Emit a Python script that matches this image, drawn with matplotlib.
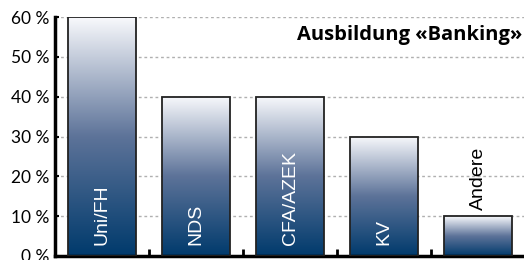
import numpy as np
import matplotlib.pyplot as plt
from matplotlib.colors import LinearSegmentedColormap

# Werte
categories = ['Uni/FH', 'NDS', 'CFA/AZEK', 'KV', 'Andere']
values = [60, 40, 40, 30, 10]
yticks = [0, 10, 20, 30, 40, 50, 60]
title = 'Ausbildung «Banking»'

cmap = LinearSegmentedColormap.from_list('bank', ['#003a6c', '#5d7399', '#f8f9fc'])

fig = plt.figure(figsize=(5.24, 2.6), dpi=100)
ax = fig.add_axes([55 / 524, 4 / 260, 470 / 524, 239 / 260])

x = np.arange(len(categories))
bars = ax.bar(x, values, width=0.72, color='none', edgecolor='#222222', linewidth=1.3, zorder=3)

# Verlauf in jeden Balken
grad = np.linspace(0, 1, 256).reshape(-1, 1)
for b in bars:
    x0, y0 = b.get_x(), b.get_y()
    w, h = b.get_width(), b.get_height()
    im = ax.imshow(grad, cmap=cmap, aspect='auto', origin='lower',
                   extent=[x0, x0 + w, y0, y0 + h], zorder=2, interpolation='bicubic')
    im.set_clip_path(b)

# Beschriftung in den Balken
for i, (c, v) in enumerate(zip(categories, values)):
    if v >= 20:
        ax.text(i, 2.7, c, rotation=90, ha='center', va='bottom', color='white',
                fontsize=14, family='Liberation Sans', zorder=4)
    else:
        ax.text(i, v + 1.5, c, rotation=90, ha='center', va='bottom', color='black',
                fontsize=14, family='Liberation Sans', zorder=4)

ax.set_xlim(-0.5, len(categories) - 0.5)
ax.set_ylim(0, 60)
ax.set_yticks(yticks)
ax.set_yticklabels([f'{t} %' for t in yticks], family='Lato', fontsize=12.5)
ax.set_xticks(np.arange(len(categories)) + 0.5)
ax.set_xticklabels([])
ax.tick_params(axis='x', direction='in', length=5, width=2)
ax.tick_params(axis='y', direction='in', length=3, width=1.5, pad=4)

ax.grid(axis='y', linestyle=(0, (2, 2)), color='#b0b0b0', linewidth=1, zorder=0)
ax.set_axisbelow(True)

for s in ['top', 'right']:
    ax.spines[s].set_visible(False)
ax.spines['left'].set_linewidth(2.5)
ax.spines['bottom'].set_linewidth(2.5)

ax.text(0.995, 0.925, title, transform=ax.transAxes, ha='right', va='center',
        fontsize=14.5, fontweight='bold', family='Open Sans', zorder=5)

fig.savefig('out.png', dpi=100)
